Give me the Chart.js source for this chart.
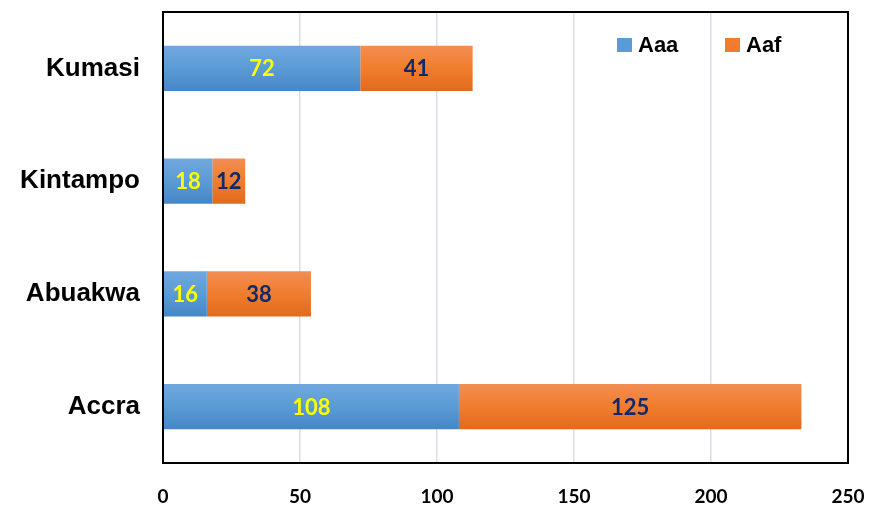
<!DOCTYPE html>
<html>
<head>
<meta charset="utf-8">
<script src="https://cdn.jsdelivr.net/npm/chart.js@4.4.1/dist/chart.umd.min.js"></script>
<style>
  html, body { margin: 0; padding: 0; background: #ffffff; }
  #wrap { width: 872px; height: 508px; }
</style>
</head>
<body>
<div id="wrap"><canvas id="c" width="872" height="508"></canvas></div>
<script>
// Sites, top to bottom
const sites = ['Kumasi', 'Kintampo', 'Abuakwa', 'Accra'];
// Counts per group
const aaaCounts = [72, 18, 16, 108];
const aafCounts = [41, 12, 38, 125];
// Value axis ticks
const xTicks = [0, 50, 100, 150, 200, 250];

const seriesStyle = [
  { name: 'Aaa', top: '#70a8de', mid: '#5b9bd5', bottom: '#4586c7', swatch: '#5b9bd5', labelColor: '#ffff00' },
  { name: 'Aaf', top: '#f38d52', mid: '#f07d2e', bottom: '#e26a1c', swatch: '#f07d2e', labelColor: '#10296b' }
];

const VALUE_FONT = 'bold 22px Lato, "Open Sans", sans-serif';
const TICK_FONT = { family: 'Lato, "Open Sans", sans-serif', size: 19, weight: 'bold' };
const CAT_FONT = { family: '"Liberation Sans", Arial, sans-serif', size: 26, weight: 'bold' };

// Keep the plot box fixed: no extra room for half-labels at the ends
function fixBox(scale, size) {
  if (scale.isHorizontal()) scale.height = size; else scale.width = size;
  scale.paddingTop = 0;
  scale.paddingBottom = 0;
  scale.paddingLeft = 0;
  scale.paddingRight = 0;
}

// Vertical gradient on every bar, stacked value labels, inner legend and frame
const decorations = {
  id: 'decorations',
  beforeDatasetsDraw(chart) {
    const ctx = chart.ctx;
    chart.data.datasets.forEach((ds, di) => {
      const st = seriesStyle[di];
      chart.getDatasetMeta(di).data.forEach(el => {
        const p = el.getProps(['y', 'height'], true);
        const g = ctx.createLinearGradient(0, p.y - p.height / 2, 0, p.y + p.height / 2);
        g.addColorStop(0, st.top);
        g.addColorStop(0.5, st.mid);
        g.addColorStop(1, st.bottom);
        el.options = Object.assign({}, el.options, { backgroundColor: g });
      });
    });
  },
  afterDatasetsDraw(chart) {
    const ctx = chart.ctx;
    const area = chart.chartArea;
    ctx.save();
    // value labels centred in each segment
    ctx.font = VALUE_FONT;
    ctx.textAlign = 'center';
    ctx.textBaseline = 'middle';
    chart.data.datasets.forEach((ds, di) => {
      ctx.fillStyle = seriesStyle[di].labelColor;
      chart.getDatasetMeta(di).data.forEach((el, i) => {
        const p = el.getProps(['x', 'base', 'y'], true);
        ctx.fillText(String(ds.data[i]), (p.x + p.base) / 2, p.y + 1);
      });
    });
    // legend inside the plot, top right
    ctx.font = 'bold 22px "Liberation Sans", Arial, sans-serif';
    ctx.textAlign = 'left';
    const legendX = [617, 725];
    chart.data.datasets.forEach((ds, di) => {
      const x = legendX[di];
      ctx.fillStyle = seriesStyle[di].swatch;
      ctx.fillRect(x, 38, 15, 14);
      ctx.fillStyle = '#000000';
      ctx.fillText(ds.label, x + 21, 46);
    });
    // frame around the plot
    ctx.strokeStyle = '#000000';
    ctx.lineWidth = 2;
    ctx.strokeRect(area.left, area.top, area.right - area.left, area.bottom - area.top);
    ctx.restore();
  }
};

new Chart(document.getElementById('c'), {
  type: 'bar',
  data: {
    labels: sites,
    datasets: [
      { label: seriesStyle[0].name, data: aaaCounts, backgroundColor: seriesStyle[0].mid, borderWidth: 0 },
      { label: seriesStyle[1].name, data: aafCounts, backgroundColor: seriesStyle[1].mid, borderWidth: 0 }
    ]
  },
  options: {
    indexAxis: 'y',
    responsive: false,
    animation: false,
    devicePixelRatio: 1,
    layout: { padding: { left: 0, right: 24, top: 12, bottom: 0 } },
    datasets: { bar: { barPercentage: 0.4, categoryPercentage: 1.0 } },
    plugins: { legend: { display: false }, tooltip: { enabled: false } },
    scales: {
      x: {
        stacked: true,
        min: xTicks[0],
        max: xTicks[xTicks.length - 1],
        afterBuildTicks(scale) { scale.ticks = xTicks.map(v => ({ value: v })); },
        afterFit(scale) { fixBox(scale, 45); },
        grid: { color: '#d9dee8', lineWidth: 1.5, drawTicks: false },
        border: { display: false },
        ticks: { color: '#000000', font: TICK_FONT, padding: 22, maxRotation: 0 }
      },
      y: {
        stacked: true,
        afterFit(scale) { fixBox(scale, 163); },
        grid: { display: false, drawTicks: false },
        border: { display: false },
        ticks: { color: '#000000', font: CAT_FONT, padding: 23 }
      }
    }
  },
  plugins: [decorations]
});
</script>
</body>
</html>
